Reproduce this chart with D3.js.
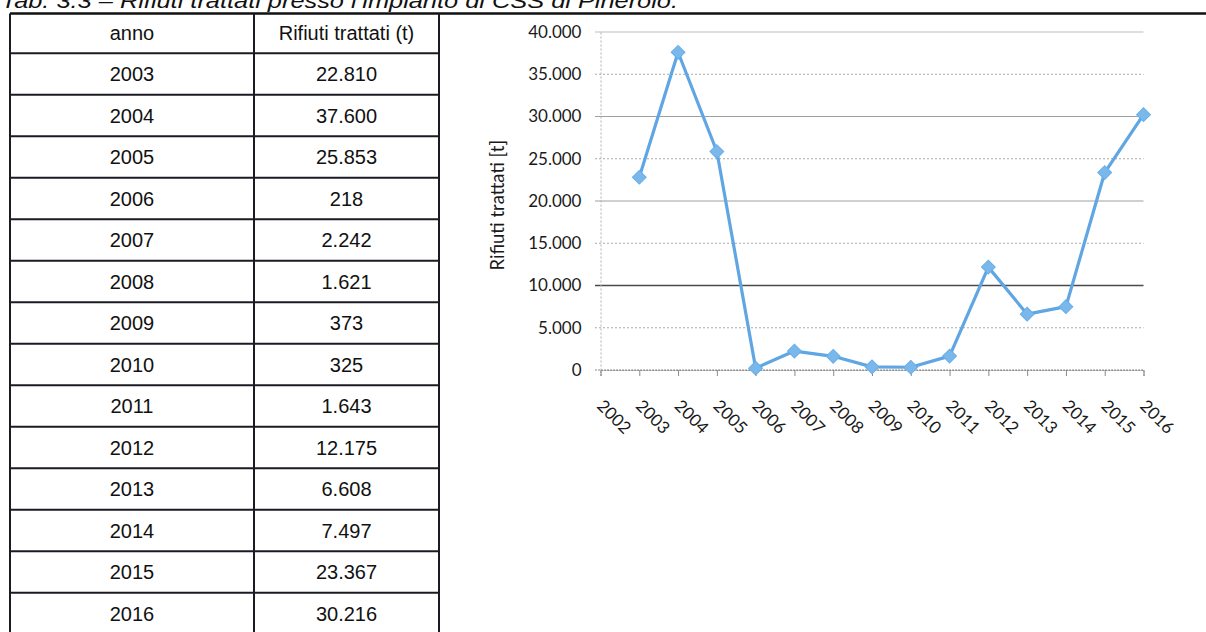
<!DOCTYPE html>
<html>
<head>
<meta charset="utf-8">
<script src="https://cdn.jsdelivr.net/npm/d3@7"></script>
<style>
  html, body { margin: 0; padding: 0; background: #fff; }
  svg { display: block; }
</style>
</head>
<body>
<div id="chart"></div>
<script>
const years = ["2003", "2004", "2005", "2006", "2007", "2008", "2009", "2010",
               "2011", "2012", "2013", "2014", "2015", "2016"];
const tons = [22810, 37600, 25853, 218, 2242, 1621, 373, 325,
              1643, 12175, 6608, 7497, 23367, 30216];
const axisYears = ["2002"].concat(years);
const yTicks = [0, 5000, 10000, 15000, 20000, 25000, 30000, 35000, 40000];
const tableHeaders = ["anno", "Rifiuti trattati (t)"];
const titleText = "Tab. 3.3 \u2013 Rifiuti trattati presso l\u2019impianto di CSS di Pinerolo.";
const yTitle = "Rifiuti trattati [t]";

const W = 1206, H = 632;
const it = d3.formatLocale({decimal: ",", thousands: ".", grouping: [3], currency: ["\u20ac", ""]});
const fmt = it.format(",");

const svg = d3.select("#chart").append("svg")
    .attr("width", W)
    .attr("height", H);

// title (top is cut off in the scan)
svg.append("text")
    .attr("x", 1)
    .attr("y", 8)
    .attr("textLength", 677)
    .attr("lengthAdjust", "spacingAndGlyphs")
    .style("font-family", "'Liberation Sans', Arial, sans-serif")
    .style("font-style", "italic")
    .style("font-size", "21px")
    .style("fill", "#111")
    .text(titleText);

svg.append("line")
    .attr("x1", 10).attr("x2", W)
    .attr("y1", 13.5).attr("y2", 13.5)
    .style("stroke", "#111")
    .style("stroke-width", 2.5);

// ---------------- table ----------------
const colX = [10, 254, 439];
const rowY = d3.scaleLinear().domain([0, 1]).range([53.3, 94.8]);
const tableFont = "'Liberation Sans', Arial, sans-serif";
const tbl = svg.append("g");

// horizontal rules
tbl.selectAll("line.row")
    .data(d3.range(0, years.length + 1))
    .enter().append("line")
    .attr("x1", colX[0]).attr("x2", colX[2])
    .attr("y1", d => rowY(d)).attr("y2", d => rowY(d))
    .style("stroke", "#1b1b24")
    .style("stroke-width", 2);

// vertical rules
tbl.selectAll("line.col")
    .data(colX)
    .enter().append("line")
    .attr("x1", d => d).attr("x2", d => d)
    .attr("y1", 13.5).attr("y2", H)
    .style("stroke", "#1b1b24")
    .style("stroke-width", 2);

// header
tbl.selectAll("text.head")
    .data(tableHeaders)
    .enter().append("text")
    .attr("x", (d, i) => (colX[i] + colX[i + 1]) / 2)
    .attr("y", (13.5 + rowY(0)) / 2 + 7)
    .attr("text-anchor", "middle")
    .style("font-family", tableFont)
    .style("font-size", "20px")
    .style("fill", "#111")
    .text(d => d);

const rows = tbl.selectAll("g.r")
    .data(years)
    .enter().append("g");

rows.append("text")
    .attr("x", (colX[0] + colX[1]) / 2)
    .attr("y", (d, i) => rowY(i + 0.5) + 7)
    .attr("text-anchor", "middle")
    .style("font-family", tableFont)
    .style("font-size", "20px")
    .style("fill", "#111")
    .text(d => d);

rows.append("text")
    .attr("x", (colX[1] + colX[2]) / 2)
    .attr("y", (d, i) => rowY(i + 0.5) + 7)
    .attr("text-anchor", "middle")
    .style("font-family", tableFont)
    .style("font-size", "20px")
    .style("fill", "#111")
    .text((d, i) => fmt(tons[i]));

// ---------------- chart ----------------
const chartFont = "Lato, 'Open Sans', sans-serif";
const x = d3.scalePoint()
    .domain(axisYears)
    .range([600.5, 1143.5]);

const y = d3.scaleLinear()
    .domain([0, 40000])
    .range([370, 32]);

// gridlines
const gridStyle = v => {
    if (v === 10000) return {c: "#4a4a4a", d: null, w: 1.4};
    if (v === 20000 || v === 30000) return {c: "#a0a0a0", d: null, w: 1};
    if (v === 40000) return {c: "#b9bccc", d: null, w: 1};
    if (v === 0) return {c: "#8a8a8a", d: "2,1", w: 1};
    return {c: "#a8a8a8", d: "2,2", w: 1};
};
svg.append("g").selectAll("line")
    .data(yTicks)
    .enter().append("line")
    .attr("x1", 595).attr("x2", 1143.5)
    .attr("y1", d => y(d)).attr("y2", d => y(d))
    .style("stroke", d => gridStyle(d).c)
    .style("stroke-width", d => gridStyle(d).w)
    .style("stroke-dasharray", d => gridStyle(d).d);

// y axis
const yAxis = svg.append("g")
    .attr("transform", "translate(600.5,0)")
    .call(d3.axisLeft(y).tickValues(yTicks).tickSize(0).tickPadding(19).tickFormat(fmt));
yAxis.select(".domain")
    .style("stroke", "#b0b0b0")
    .style("stroke-dasharray", "2,2");
yAxis.selectAll("text")
    .style("font-family", chartFont)
    .style("font-size", "17px")
    .style("fill", "#1a1a1a");

svg.append("text")
    .attr("transform", "translate(504," + y(19500) + ") rotate(-90)")
    .attr("text-anchor", "middle")
    .style("font-family", chartFont)
    .style("font-size", "18.5px")
    .style("fill", "#1a1a1a")
    .text(yTitle);

// x axis
const xAxis = svg.append("g")
    .attr("transform", "translate(0," + y(0) + ")")
    .call(d3.axisBottom(x).tickSizeInner(6).tickSizeOuter(6));
xAxis.select(".domain")
    .style("stroke", "#8a8a8a")
    .style("stroke-dasharray", "2,1");
xAxis.selectAll(".tick line")
    .style("stroke", "#8a8a8a");
xAxis.selectAll("text")
    .attr("x", 0).attr("y", 0).attr("dy", null)
    .attr("text-anchor", "start")
    .attr("transform", "translate(-5,37) rotate(45)")
    .style("font-family", chartFont)
    .style("font-size", "17px")
    .style("fill", "#1a1a1a");

// series
const pts = years.map((yr, i) => ({yr: yr, v: tons[i]}));
const line = d3.line()
    .x(d => x(d.yr))
    .y(d => y(d.v));

svg.append("path")
    .datum(pts)
    .attr("d", line)
    .style("fill", "none")
    .style("stroke", "#5fa6e2")
    .style("stroke-width", 3.2)
    .style("stroke-linejoin", "round");

svg.append("g").selectAll("path")
    .data(pts)
    .enter().append("path")
    .attr("d", d3.symbol().type(d3.symbolSquare).size(95))
    .attr("transform", d => "translate(" + x(d.yr) + "," + y(d.v) + ") rotate(45)")
    .style("fill", "#7ab8ec")
    .style("stroke", "#68aee8")
    .style("stroke-width", 1);
</script>
</body>
</html>
